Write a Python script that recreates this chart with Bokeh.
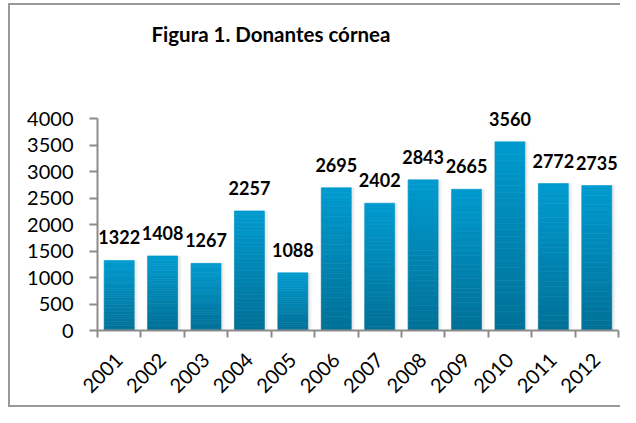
from bokeh.plotting import figure
from bokeh.models import FixedTicker, Title, ColumnDataSource, LabelSet
from bokeh.core.properties import value
from bokeh.embed import file_html
from bokeh.resources import INLINE
from math import pi

# ---- data ----
years = ["2001", "2002", "2003", "2004", "2005", "2006",
         "2007", "2008", "2009", "2010", "2011", "2012"]
donors = [1322, 1408, 1267, 2257, 1088, 2695, 2402, 2843, 2665, 3560, 2772, 2735]
y_ticks = [0, 500, 1000, 1500, 2000, 2500, 3000, 3500, 4000]
title_text = "Figura 1. Donantes córnea"

FONT = "Lato"
n = len(years)
xc = [i + 0.5 for i in range(n)]

p = figure(width=620, height=407, x_range=(0, n), y_range=(0, 5000),
           output_backend="svg", toolbar_location=None,
           min_border_left=97, min_border_right=2,
           min_border_bottom=77, min_border_top=64)

p.title = Title(text=title_text, align="left", offset=54, standoff=39,
                text_font=FONT, text_font_size="20.5px",
                text_font_style="bold", text_color="black")

# soft shadow behind bars
p.vbar(x=[x + 0.03 for x in xc], top=donors, bottom=0, width=0.80,
       fill_color="#f4f4f4", line_color=None)
p.vbar(x=[x + 0.02 for x in xc], top=donors, bottom=0, width=0.75,
       fill_color="#e9e9e9", line_color=None)

# gradient bars (light top -> dark bottom), drawn as slices of each bar
top_rgb = (0, 155, 208)
bot_rgb = (0, 112, 150)
N = 30
gx, gb, gt, gc = [], [], [], []
for x, v in zip(xc, donors):
    for k in range(N):
        f = (k + 0.5) / N
        r = int(round(bot_rgb[0] + (top_rgb[0] - bot_rgb[0]) * f))
        g = int(round(bot_rgb[1] + (top_rgb[1] - bot_rgb[1]) * f))
        b = int(round(bot_rgb[2] + (top_rgb[2] - bot_rgb[2]) * f))
        gx.append(x)
        gb.append(v * k / N)
        gt.append(v * (k + 1) / N)
        gc.append("#%02x%02x%02x" % (r, g, b))
src = ColumnDataSource(dict(x=gx, bottom=gb, top=gt, color=gc))
p.vbar(x="x", bottom="bottom", top="top", width=0.69, fill_color="color",
       line_color="color", line_width=0.6, source=src)

# value labels
lsrc = ColumnDataSource(dict(x=xc, y=donors, t=[str(v) for v in donors]))
labels = LabelSet(x="x", y="y", text="t", source=lsrc,
                  text_font=value(FONT), text_font_size=value("18px"),
                  text_font_style=value("bold"), text_color=value("black"),
                  text_align=value("center"), text_baseline=value("middle"),
                  y_offset=23)
p.add_layout(labels)

# axes
p.xgrid.visible = False
p.ygrid.visible = False
p.outline_line_color = None

ya = p.yaxis[0]
ya.ticker = FixedTicker(ticks=y_ticks)
ya.bounds = (0, 4000)
ya.axis_line_color = "#8c8c8c"
ya.axis_line_width = 2
ya.major_tick_line_color = "#8c8c8c"
ya.major_tick_line_width = 2
ya.major_tick_in = 0
ya.major_tick_out = 8
ya.minor_tick_line_color = None
ya.major_label_text_font = FONT
ya.major_label_text_font_size = "20px"
ya.major_label_text_color = "black"
ya.major_label_standoff = 16

xa = p.xaxis[0]
xa.ticker = FixedTicker(ticks=xc, minor_ticks=list(range(n + 1)))
xa.major_label_overrides = {x: y for x, y in zip(xc, years)}
xa.axis_line_color = "#8c8c8c"
xa.axis_line_width = 2
xa.major_tick_line_color = None
xa.minor_tick_line_color = "#8c8c8c"
xa.minor_tick_line_width = 2
xa.minor_tick_in = 0
xa.minor_tick_out = 7
xa.major_label_orientation = pi / 4
xa.major_label_text_font = FONT
xa.major_label_text_font_size = "20px"
xa.major_label_text_color = "black"
xa.major_label_standoff = 19

p.border_fill_color = None
p.background_fill_color = None
p.styles = {"box-shadow": ("inset 8px 3px 0 white, "
                           "inset 10px 5px 0 #999999, "
                           "inset 0 -2px 0 #999999")}

open("out.html", "w").write(file_html(p, INLINE))
